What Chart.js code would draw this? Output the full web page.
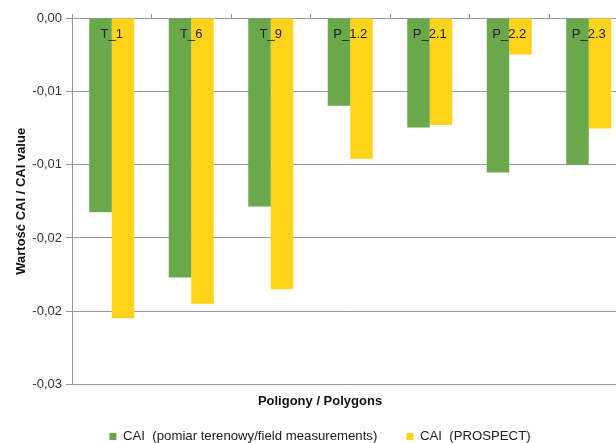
<!DOCTYPE html>
<html>
<head>
<meta charset="utf-8">
<script src="https://cdn.jsdelivr.net/npm/chart.js@4"></script>
<style>
  html, body { margin: 0; padding: 0; background: #fff; overflow: hidden; }
  #wrap { width: 640px; height: 453px; }
</style>
</head>
<body>
<div id="wrap"><canvas id="caiChart" width="640" height="453"></canvas></div>
<script>
// dane
const polygons = ['T_1', 'T_6', 'T_9', 'P_1.2', 'P_2.1', 'P_2.2', 'P_2.3'];
const caiField = [-0.01325, -0.0177, -0.01286, -0.00599, -0.00747, -0.01053, -0.0100];
const caiProspect = [-0.02048, -0.01948, -0.01849, -0.00959, -0.00729, -0.00249, -0.00753];
const yTickLabels = ['0,00', '-0,01', '-0,01', '-0,02', '-0,02', '-0,03'];

const gridColor = '#8c9ba6';
const fontFamily = '"Liberation Sans", Arial, sans-serif';

// etykiety poligonów wewnątrz słupków
const categoryLabels = {
    id: 'categoryLabels',
    afterDatasetsDraw(chart) {
        const c = chart.ctx;
        const x = chart.scales.x;
        c.save();
        c.font = '13px ' + fontFamily;
        c.fillStyle = '#222';
        c.textAlign = 'center';
        c.textBaseline = 'middle';
        polygons.forEach((p, i) => {
            c.fillText(p, x.getPixelForValue(i), chart.chartArea.top + 16);
        });
        c.restore();
    }
};

const ctx = document.getElementById('caiChart').getContext('2d');
const caiChart = new Chart(ctx, {
    type: 'bar',
    data: {
        labels: polygons,
        datasets: [{
            label: 'CAI  (pomiar terenowy/field measurements)',
            data: caiField,
            backgroundColor: '#6ba74b',
            categoryPercentage: 0.566,
            barPercentage: 1.0
        }, {
            label: 'CAI  (PROSPECT)',
            data: caiProspect,
            backgroundColor: '#ffd31a',
            categoryPercentage: 0.566,
            barPercentage: 1.0
        }]
    },
    options: {
        responsive: false,
        animation: false,
        devicePixelRatio: 1,
        layout: { padding: { top: 14, right: 0, left: 0, bottom: 0 } },
        plugins: {
            legend: {
                position: 'bottom',
                weight: 1000,
                labels: {
                    boxWidth: 7,
                    boxHeight: 7,
                    padding: 29,
                    color: '#222',
                    font: { family: fontFamily, size: 13.2 }
                }
            },
            title: {
                display: true,
                position: 'bottom',
                weight: 500,
                text: 'Poligony / Polygons',
                color: '#111',
                font: { family: fontFamily, size: 13, weight: 'bold' },
                padding: { top: 8.6, bottom: -8 }
            },
            tooltip: { enabled: false }
        },
        scales: {
            x: {
                position: 'top',
                ticks: { display: false },
                grid: {
                    display: true,
                    drawOnChartArea: false,
                    offset: true,
                    tickLength: 4,
                    color: gridColor
                },
                border: { color: gridColor }
            },
            y: {
                min: -0.025,
                max: 0,
                ticks: {
                    stepSize: 0.005,
                    padding: 4,
                    color: '#333',
                    font: { family: fontFamily, size: 13 },
                    callback: function(value) {
                        return yTickLabels[Math.round(-value / 0.005)];
                    }
                },
                grid: { color: gridColor, tickLength: 6 },
                border: { color: gridColor },
                title: {
                    display: true,
                    text: 'Wartość CAI / CAI value',
                    color: '#111',
                    font: { family: fontFamily, size: 13, weight: 'bold' },
                    padding: { top: 14, bottom: 0 }
                },
                afterFit(scale) { scale.width = 72; }
            },
            // pusta oś po prawej - tylko odstęp
            yRight: {
                position: 'right',
                min: -0.025,
                max: 0,
                ticks: { display: false },
                grid: { display: false },
                border: { display: false },
                afterFit(scale) { scale.width = 11.5; }
            }
        }
    },
    plugins: [categoryLabels]
});
</script>
</body>
</html>
